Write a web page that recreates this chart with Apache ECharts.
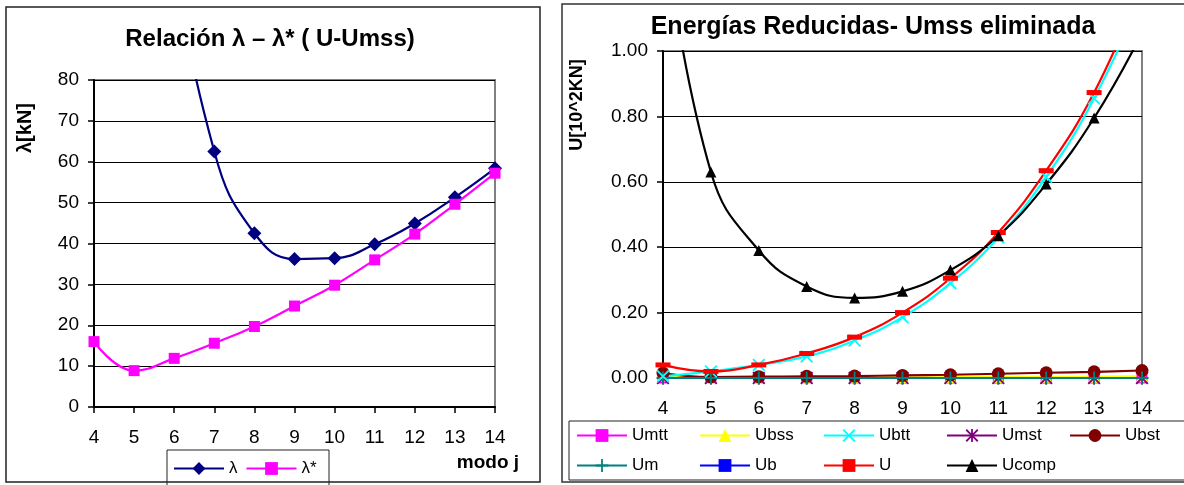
<!DOCTYPE html>
<html>
<head>
<meta charset="utf-8">
<script src="https://cdn.jsdelivr.net/npm/echarts@6/dist/echarts.min.js"></script>
<style>
  html, body { margin: 0; padding: 0; background: #fff; }
  #chart { width: 1184px; height: 485px; }
</style>
</head>
<body>
<div id="chart"></div>
<script>
// ---- data ----
const modes = [4, 5, 6, 7, 8, 9, 10, 11, 12, 13, 14];

// left chart (values at 4-6 are off the top of the axis, estimated)
const lambda = [400, 220, 115, 62.5, 42.5, 36.2, 36.4, 39.8, 44.9, 51.3, 58.4];
const lambdaStar = [16.0, 8.9, 11.9, 15.6, 19.7, 24.7, 29.8, 36.0, 42.3, 49.6, 57.2];

// right chart
const umtt = [0, 0, 0, 0, 0, 0, 0, 0, 0, 0, 0];
const ubss = [0.008, 0, 0.0005, 0.001, 0.0015, 0.002, 0.0025, 0.003, 0.0035, 0.004, 0.005];
const ubtt = [0.005, 0.02, 0.04, 0.066, 0.115, 0.186, 0.29, 0.43, 0.615, 0.855, 1.17];
const umst = [0, 0, 0, 0, 0, 0, 0, 0, 0, 0, 0];
const ubst = [0.015, 0.003, 0.004, 0.005, 0.006, 0.008, 0.010, 0.013, 0.016, 0.019, 0.023];
const um = [0, 0, 0, 0, 0, 0, 0, 0, 0, 0, 0];
const ub = [0, 0, 0, 0, 0, 0, 0, 0, 0, 0, 0];
const uTotal = [0.04, 0.02, 0.04, 0.075, 0.125, 0.20, 0.305, 0.445, 0.634, 0.873, 1.2];
const ucomp = [1.4, 0.63, 0.39, 0.28, 0.245, 0.265, 0.33, 0.435, 0.593, 0.795, 1.055];

const leftTicks = { min: 0, max: 80, step: 10 };
const rightTicks = { min: 0, max: 1, step: 0.2 };

// ---- helpers ----
const FONT = 'Liberation Sans, Arial, sans-serif';
const pts = vals => modes.map((m, i) => [m, vals[i]]);

const X_PATH = 'path://M1,0L5,4L9,0L10,1L6,5L10,9L9,10L5,6L1,10L0,9L4,5L0,1Z';
const PLUS_PATH = 'path://M4.3,0H5.7V4.3H10V5.7H5.7V10H4.3V5.7H0V4.3H4.3Z';
const STAR_PATH = 'path://M1,0L5,4L9,0L10,1L6,5L10,9L9,10L5,6L1,10L0,9L4,5L0,1Z M4.3,0H5.7V10H4.3Z';
const DASH_PATH = 'path://M0,0H10V3H0Z';

function lineSeries(name, vals, color, symbol, size, idx) {
  return {
    name: name,
    type: 'line',
    xAxisIndex: idx,
    yAxisIndex: idx,
    data: pts(vals),
    smooth: 0.45,
    symbol: symbol,
    symbolSize: size,
    showAllSymbol: true,
    lineStyle: { color: color, width: 2.2 },
    itemStyle: { color: color },
    emphasis: { disabled: true },
    animation: false
  };
}

function xAxisCfg(idx) {
  return {
    type: 'value',
    gridIndex: idx,
    min: 4, max: 14, interval: 1,
    axisLine: { onZero: false, lineStyle: { color: '#000', width: 2 } },
    axisTick: { show: true, length: 6, lineStyle: { color: '#000', width: 1.5 } },
    axisLabel: { color: '#000', fontSize: 19, fontFamily: FONT, margin: 21 },
    splitLine: { show: false }
  };
}

function yAxisCfg(idx, t, fmt) {
  return {
    type: 'value',
    gridIndex: idx,
    min: t.min, max: t.max, interval: t.step,
    axisLine: { show: true, lineStyle: { color: '#000', width: 2 } },
    axisTick: { show: true, length: 6, lineStyle: { color: '#000', width: 1.5 } },
    axisLabel: { color: '#000', fontSize: 19, fontFamily: FONT, margin: 15, formatter: fmt },
    splitLine: { show: true, lineStyle: { color: '#000', width: 1 } }
  };
}

const legendText = { color: '#000', fontSize: 17, fontFamily: FONT };

function colLegend(left, names) {
  return {
    orient: 'vertical',
    left: left, top: 427,
    itemWidth: 50, itemHeight: 16, itemGap: 13,
    padding: 0,
    selectedMode: false,
    textStyle: legendText,
    data: names
  };
}

const chart = echarts.init(document.getElementById('chart'), null, { renderer: 'canvas' });

chart.setOption({
  backgroundColor: '#fff',
  animation: false,
  grid: [
    { left: 94, top: 80, width: 401, height: 327, show: true, borderColor: '#808080', borderWidth: 2, backgroundColor: '#fff' },
    { left: 663, top: 51, width: 479, height: 327, show: true, borderColor: '#808080', borderWidth: 2, backgroundColor: '#fff' }
  ],
  xAxis: [xAxisCfg(0), xAxisCfg(1)],
  yAxis: [
    yAxisCfg(0, leftTicks, v => String(v)),
    yAxisCfg(1, rightTicks, v => v.toFixed(2))
  ],
  legend: [
    {
      left: 173, top: 460,
      itemWidth: 50, itemHeight: 16, itemGap: 8,
      padding: 0,
      selectedMode: false,
      textStyle: legendText,
      data: ['λ', 'λ*']
    },
    colLegend(576, ['Umtt', 'Um']),
    colLegend(699, ['Ubss', 'Ub']),
    colLegend(823, ['Ubtt', 'U']),
    colLegend(946, ['Umst', 'Ucomp']),
    colLegend(1069, ['Ubst'])
  ],
  series: [
    lineSeries('λ', lambda, '#000080', 'diamond', 14, 0),
    lineSeries('λ*', lambdaStar, '#FF00FF', 'rect', 11, 0),

    lineSeries('Ub', ub, '#0000FF', DASH_PATH, [10, 3], 1),
    lineSeries('Umtt', umtt, '#FF00FF', 'rect', 11, 1),
    lineSeries('Ubss', ubss, '#FFFF00', 'triangle', 12, 1),
    lineSeries('Umst', umst, '#800080', STAR_PATH, 13, 1),
    lineSeries('Ubst', ubst, '#800000', 'circle', 13, 1),
    lineSeries('Um', um, '#008080', PLUS_PATH, 13, 1),
    lineSeries('Ubtt', ubtt, '#00FFFF', X_PATH, 13, 1),
    lineSeries('U', uTotal, '#FF0000', DASH_PATH, [15, 5], 1),
    lineSeries('Ucomp', ucomp, '#000000', 'triangle', 11, 1)
  ],
  graphic: [
    // outer frames
    { type: 'rect', z: -10, shape: { x: 6, y: 7, width: 534, height: 475 }, style: { fill: '#fff', stroke: '#222', lineWidth: 1.5 } },
    { type: 'rect', z: -10, shape: { x: 562, y: 4, width: 640, height: 478 }, style: { fill: '#fff', stroke: '#333', lineWidth: 1.5 } },
    // legend frames
    { type: 'rect', z: 1, shape: { x: 167, y: 450, width: 162, height: 45 }, style: { fill: 'none', stroke: '#222', lineWidth: 1 } },
    { type: 'rect', z: 1, shape: { x: 569, y: 421, width: 640, height: 59 }, style: { fill: 'none', stroke: '#222', lineWidth: 1 } },
    // titles
    { type: 'text', z: 10, style: { text: 'Relación λ – λ* ( U-Umss)', x: 270, y: 39, align: 'center', verticalAlign: 'middle', font: 'bold 24px ' + FONT, fill: '#000' } },
    { type: 'text', z: 10, style: { text: 'Energías Reducidas- Umss eliminada', x: 873, y: 27, align: 'center', verticalAlign: 'middle', font: 'bold 25px ' + FONT, fill: '#000' } },
    // axis names
    { type: 'text', z: 10, x: 25, y: 128, rotation: Math.PI / 2, style: { text: 'λ[kN]', x: 0, y: 0, align: 'center', verticalAlign: 'middle', font: 'bold 20px ' + FONT, fill: '#000' } },
    { type: 'text', z: 10, x: 577, y: 105, rotation: Math.PI / 2, style: { text: 'U[10^2KN]', x: 0, y: 0, align: 'center', verticalAlign: 'middle', font: 'bold 18px ' + FONT, fill: '#000' } },
    { type: 'text', z: 10, style: { text: 'modo j', x: 488, y: 463, align: 'center', verticalAlign: 'middle', font: 'bold 19px ' + FONT, fill: '#000' } }
  ]
});

window.addEventListener('resize', () => { chart && chart.resize(); });
</script>
</body>
</html>
